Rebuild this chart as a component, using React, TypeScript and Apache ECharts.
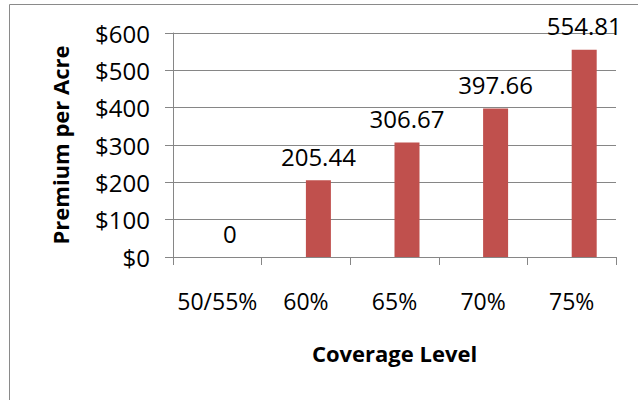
import React, { useEffect, useRef } from "react";
import * as echarts from "echarts";

const categories = ["50/55%", "60%", "65%", "70%", "75%"];
const seriesBlue = [0, 0, 0, 0, 0];
const seriesRed = [0, 205.44, 306.67, 397.66, 554.81];
const yTicks = { min: 0, max: 600, interval: 100 };

const FONT = "'Open Sans', 'Liberation Sans', sans-serif";

export default function App() {
  const ref = useRef<HTMLDivElement>(null);
  useEffect(() => {
    if (!ref.current) return;
    const chart = echarts.init(ref.current, null, { renderer: "svg" });
    chart.setOption({
      animation: false,
      backgroundColor: "#ffffff",
      textStyle: { fontFamily: FONT },
      graphic: [
        {
          type: "rect",
          shape: { x: 9.5, y: 4.5, width: 700, height: 500 },
          style: { fill: "none", stroke: "#8a8a8a", lineWidth: 1 },
          silent: true,
        },
      ],
      grid: { left: 173, right: 22, top: 33, bottom: 143, containLabel: false },
      xAxis: {
        type: "category",
        data: categories,
        boundaryGap: true,
        axisLine: { lineStyle: { color: "#868686", width: 1 } },
        axisTick: { show: true, alignWithLabel: false, length: 8, lineStyle: { color: "#868686" } },
        axisLabel: { color: "#000", fontSize: 23, fontFamily: FONT, margin: 32, interval: 0 },
        name: "Coverage Level",
        nameLocation: "middle",
        nameGap: 85,
        nameTextStyle: { color: "#000", fontSize: 22, fontWeight: "bold", fontFamily: FONT },
      },
      yAxis: {
        type: "value",
        min: yTicks.min,
        max: yTicks.max,
        interval: yTicks.interval,
        axisLine: { show: true, lineStyle: { color: "#868686", width: 1 } },
        axisTick: { show: true, length: 8, lineStyle: { color: "#868686" } },
        splitLine: { show: true, lineStyle: { color: "#868686", width: 1 } },
        axisLabel: {
          color: "#000",
          fontSize: 24,
          fontFamily: FONT,
          margin: 23,
          formatter: (v: number) => "$" + v,
        },
        name: "Premium per Acre",
        nameLocation: "middle",
        nameRotate: 90,
        nameGap: 102,
        nameTextStyle: { color: "#000", fontSize: 22, fontWeight: "bold", fontFamily: FONT },
      },
      series: [
        {
          type: "bar",
          data: seriesBlue,
          barWidth: 25,
          barGap: "0%",
          itemStyle: { color: "#4F81BD" },
        },
        {
          type: "bar",
          data: seriesRed,
          barWidth: 25,
          barGap: "0%",
          itemStyle: { color: "#C0504D" },
          label: {
            show: true,
            position: "top",
            distance: 12,
            color: "#000",
            fontSize: 24,
            fontFamily: FONT,
          },
        },
      ],
    });
    return () => chart.dispose();
  }, []);
  return (
    <div
      ref={ref}
      style={{ position: "fixed", left: 0, top: 0, width: 638, height: 400 }}
    />
  );
}
